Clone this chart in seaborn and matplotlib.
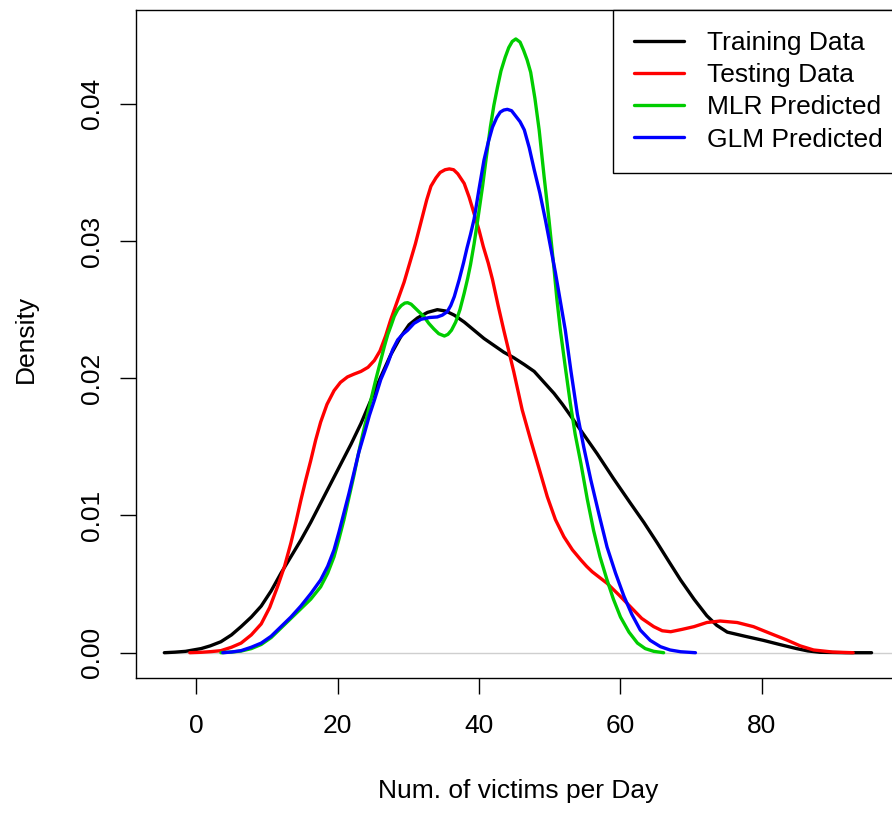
import numpy as np
import matplotlib
matplotlib.use("Agg")
import matplotlib.pyplot as plt
import seaborn as sns

# density curves (x = victims per day, y = density)
train_x = [-4.5, -3.0, -1.5, 0.7, 2.0, 3.5, 5.0, 6.35, 7.8, 9.2, 10.6, 12.0, 13.4, 14.8, 16.2,
           17.6, 19.0, 20.5, 21.9, 23.3, 24.7, 26.1, 27.5, 28.9, 30.1, 31.3, 32.7, 34.1, 35.3,
           36.5, 37.9, 39.3, 40.7, 42.1, 43.5, 44.9, 46.4, 47.8, 49.2, 50.6, 51.8, 52.9, 54.8,
           56.7, 59.0, 61.4, 63.3, 65.2, 66.9, 68.5, 70.4, 72.2, 73.6, 75.1, 77.6, 80.2, 82.5,
           84.9, 86.5, 88.2, 91.8, 95.5]
train_y = [0, 0.00004, 0.0001, 0.0003, 0.0005, 0.0008, 0.0013, 0.0019, 0.0026, 0.0034, 0.0045,
           0.0058, 0.0070, 0.0082, 0.0095, 0.0109, 0.0123, 0.0138, 0.0152, 0.0167, 0.0184,
           0.0201, 0.0217, 0.0230, 0.0239, 0.0244, 0.0248, 0.0250, 0.0249, 0.0246, 0.0241,
           0.0235, 0.0229, 0.0224, 0.0219, 0.0215, 0.0210, 0.0205, 0.0197, 0.0189, 0.0181,
           0.0173, 0.0159, 0.0145, 0.0127, 0.0109, 0.0095, 0.0080, 0.0066, 0.0053, 0.0039,
           0.0027, 0.0020, 0.0015, 0.0012, 0.0009, 0.0006, 0.0003, 0.00013, 0.00003, 0, 0]

test_x = [-0.9, 0.7, 2.1, 3.5, 5.0, 6.35, 7.8, 9.2, 10.4, 11.5, 12.5, 13.4, 14.1, 14.8, 15.5,
          16.2, 16.9, 17.6, 18.5, 19.5, 20.4, 21.4, 22.3, 23.3, 24.3, 25.2, 26.0, 26.8, 27.5,
          28.5, 29.4, 30.2, 31.0, 32.0, 32.6, 33.2, 33.9, 34.5, 35.2, 35.8, 36.4, 37.0, 37.9,
          38.6, 39.3, 40.0, 40.6, 41.3, 41.9, 42.7, 43.5, 44.2, 44.9, 45.5, 46.1, 47.3, 48.5,
          49.65, 50.8, 52.0, 53.2, 54.4, 55.2, 56.0, 57.0, 58.1, 59.8, 61.4, 63.0, 64.7, 65.9,
          67.1, 68.7, 70.4, 72.2, 74.1, 76.5, 78.8, 81.2, 83.5, 85.4, 87.3, 90.0, 92.9]
test_y = [0, 0.00003, 0.00008, 0.00015, 0.0004, 0.0007, 0.0013, 0.0021, 0.0033, 0.0048, 0.0063,
          0.0080, 0.0095, 0.0111, 0.0126, 0.0140, 0.0155, 0.0168, 0.0181, 0.0191, 0.0197,
          0.0201, 0.0203, 0.0205, 0.0208, 0.0213, 0.0220, 0.0231, 0.02425, 0.0257, 0.0270,
          0.0284, 0.0298, 0.0318, 0.0330, 0.0340, 0.0346, 0.0350, 0.0352, 0.03526, 0.0352,
          0.0349, 0.0342, 0.0332, 0.0320, 0.0308, 0.0296, 0.0284, 0.0272, 0.0253, 0.0235,
          0.0220, 0.0205, 0.0191, 0.0177, 0.0155, 0.0134, 0.01137, 0.0097, 0.00845, 0.0075,
          0.00676, 0.0063, 0.0059, 0.0055, 0.00506, 0.0042, 0.00335, 0.0025, 0.0019, 0.0016,
          0.00153, 0.0017, 0.0019, 0.0022, 0.00231, 0.0022, 0.0019, 0.0014, 0.00093, 0.0005,
          0.0002, 0.00005, 0]

mlr_x = [3.5, 5.0, 6.35, 7.8, 9.2, 10.6, 12.0, 13.4, 14.8, 16.2, 17.6, 18.6, 19.5, 20.2, 20.9,
         21.6, 22.3, 22.9, 23.5, 24.1, 24.7, 25.4, 26.1, 26.6, 27.1, 27.6, 28.0, 28.5, 29.0,
         29.5, 29.9, 30.4, 31.0, 31.6, 32.2, 32.9, 33.6, 34.3, 35.1, 35.6, 36.1, 36.7, 37.3,
         37.9, 38.4, 38.8, 39.3, 39.8, 40.5, 41.0, 41.6, 42.1, 42.6, 43.1, 43.7, 44.2, 44.7,
         45.2, 45.8, 46.3, 46.8, 47.3, 47.9, 48.5, 49.2, 49.9, 50.6, 51.0, 51.5, 52.2, 52.9,
         53.6, 54.4, 55.3, 56.2, 57.1, 58.1, 59.0, 60.0, 61.2, 62.4, 63.5, 64.7, 66.1]
mlr_y = [0, 0.00005, 0.00012, 0.0003, 0.0006, 0.0011, 0.0018, 0.0025, 0.0032, 0.0039, 0.0048,
         0.0058, 0.0070, 0.0083, 0.0097, 0.0113, 0.0129, 0.0144, 0.0158, 0.0171, 0.0184,
         0.0199, 0.0213, 0.0223, 0.0232, 0.0239, 0.0245, 0.0250, 0.0253, 0.02548, 0.02551,
         0.0254, 0.0251, 0.0248, 0.0245, 0.0240, 0.0236, 0.02325, 0.02308, 0.0232, 0.0235,
         0.0241, 0.0250, 0.0262, 0.0273, 0.0283, 0.0298, 0.0315, 0.0340, 0.0360, 0.0383,
         0.0399, 0.0412, 0.0424, 0.0434, 0.0441, 0.04455, 0.04473, 0.0445, 0.0439, 0.0432,
         0.0423, 0.0404, 0.0381, 0.0347, 0.0315, 0.0280, 0.0258, 0.0235, 0.0208, 0.0182,
         0.0159, 0.0138, 0.0112, 0.0089, 0.0070, 0.0053, 0.0039, 0.0026, 0.0015, 0.0007,
         0.0003, 0.0001, 0]

glm_x = [3.76, 5.0, 6.35, 7.8, 9.2, 10.6, 12.0, 13.4, 14.8, 16.2, 17.6, 18.6, 19.5, 20.2, 20.9,
         21.6, 22.3, 23.0, 23.8, 24.5, 25.2, 26.1, 27.1, 27.8, 28.5, 29.2, 29.9, 30.8, 31.8,
         33.0, 34.1, 34.8, 35.5, 36.0, 36.5, 37.2, 37.8, 38.3, 38.8, 39.3, 40.0, 40.7, 41.3,
         41.9, 42.5, 43.0, 43.5, 44.0, 44.6, 45.2, 45.8, 46.4, 47.1, 47.8, 48.6, 49.4, 50.1,
         50.8, 51.5, 52.2, 53.0, 53.9, 54.8, 55.8, 57.0, 58.1, 59.3, 60.5, 61.6, 62.8, 64.2,
         65.65, 67.0, 68.5, 70.6]
glm_y = [0, 0.00005, 0.00015, 0.0004, 0.0007, 0.0012, 0.0019, 0.0026, 0.0034, 0.0043, 0.0053,
         0.0063, 0.0075, 0.0088, 0.0102, 0.0116, 0.0131, 0.0146, 0.0160, 0.0173, 0.0184,
         0.0199, 0.0211, 0.0221, 0.0228, 0.0232, 0.0235, 0.0240, 0.0243, 0.02443, 0.02447,
         0.0246, 0.02485, 0.0253, 0.02595, 0.0272, 0.0284, 0.0295, 0.0305, 0.0316, 0.0338,
         0.0359, 0.0372, 0.0383, 0.0390, 0.0394, 0.03955, 0.0396, 0.0395, 0.0391, 0.0387,
         0.0381, 0.0368, 0.0352, 0.0335, 0.0315, 0.0296, 0.0277, 0.0256, 0.0235, 0.0205,
         0.0174, 0.0150, 0.0126, 0.0100, 0.0077, 0.0058, 0.0041, 0.0028, 0.00165, 0.0009,
         0.00044, 0.0002, 0.00007, 0]

series_labels = ["Training Data", "Testing Data", "MLR Predicted", "GLM Predicted"]
series_colors = ["black", "red", "#00CD00", "blue"]
x_ticks = [0, 20, 40, 60, 80]
y_ticks = [0.00, 0.01, 0.02, 0.03, 0.04]

sns.set_style("white")
plt.rcParams["font.family"] = ["Liberation Sans", "DejaVu Sans"]
plt.rcParams["text.color"] = "black"
plt.rcParams["axes.labelcolor"] = "black"
plt.rcParams["xtick.color"] = "black"
plt.rcParams["ytick.color"] = "black"

fig = plt.figure(figsize=(8.92, 8.13), dpi=100)
ax = fig.add_axes([0.1525, 0.1661, 0.8563, 0.8216])

xlim = (-8.5, 99.5)
ax.hlines(0, train_x[0], xlim[1], color="#cfcfcf", lw=1, zorder=0.5)

curves = [(train_x, train_y), (test_x, test_y), (mlr_x, mlr_y), (glm_x, glm_y)]
for (xs, ys), lab, col in zip(curves, series_labels, series_colors):
    sns.lineplot(x=xs, y=ys, sort=False, estimator=None, color=col, lw=2.4,
                 label=lab, ax=ax)

ax.set_xlim(*xlim)
ax.set_ylim(-0.00184, 0.04684)

ax.set_xticks(x_ticks)
ax.set_xticklabels([str(t) for t in x_ticks])
ax.set_yticks(y_ticks)
ax.set_yticklabels([f"{t:.2f}" for t in y_ticks], rotation=90, va="center")
ax.tick_params(axis="both", direction="out", length=11.5, width=1, labelsize=19)
ax.tick_params(axis="x", pad=14.5, bottom=True)
ax.tick_params(axis="y", pad=11.5, left=True)

for sp in ax.spines.values():
    sp.set_visible(True)
    sp.set_color("black")
    sp.set_linewidth(1)

ax.set_xlabel("Num. of victims per Day", fontsize=19)
ax.set_ylabel("Density", fontsize=19)
ax.xaxis.set_label_coords(0.5, -0.1506)
ax.yaxis.set_label_coords(-0.128, 0.508)

leg = ax.legend(loc="upper left", bbox_to_anchor=(0.6243, 1.0), borderaxespad=0,
                fontsize=19, frameon=True, fancybox=False, framealpha=1,
                edgecolor="black", handlelength=1.9, handletextpad=0.87,
                borderpad=0.8, labelspacing=0.31)
leg.get_frame().set_linewidth(1)
for line in leg.get_lines():
    line.set_linewidth(2.4)

fig.savefig("out.png", dpi=100)
